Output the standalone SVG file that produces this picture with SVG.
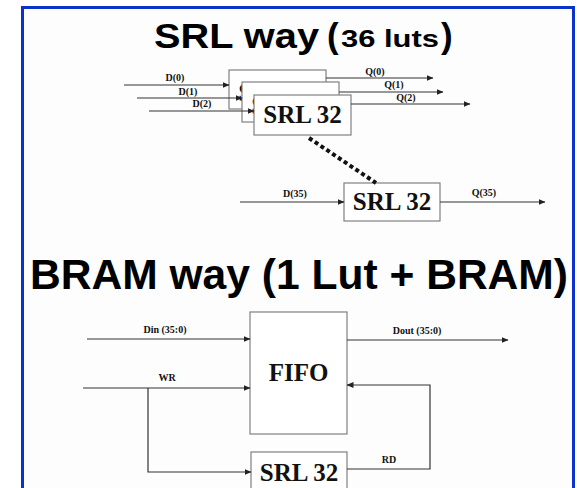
<svg xmlns="http://www.w3.org/2000/svg" width="577" height="488" viewBox="0 0 577 488">
<defs>
<marker id="ah" markerWidth="7" markerHeight="6" refX="6.5" refY="3" orient="auto" markerUnits="userSpaceOnUse">
<path d="M0,0 L7,3 L0,6 Z" fill="#222"/>
</marker>
<style>
.box{fill:#fff;stroke:#808080;stroke-width:1.2}
.ln{fill:none;stroke:#333;stroke-width:1.2}
.arr{fill:none;stroke:#333;stroke-width:1.2;marker-end:url(#ah)}
.bt{font-family:"Liberation Serif","Times New Roman",serif;font-weight:bold;font-size:25px;text-anchor:middle;fill:#111}
.lb{font-family:"Liberation Serif","Times New Roman",serif;font-weight:bold;font-size:10px;text-anchor:middle;fill:#111}
.tt{font-family:"Liberation Sans",Arial,sans-serif;font-weight:bold;fill:#000}
</style>
</defs>
<rect x="0" y="0" width="577" height="488" fill="#fff"/>
<rect x="22.5" y="7.5" width="551" height="500" fill="#fdfdfd" stroke="#0b33cc" stroke-width="3"/>

<g id="title-srl">
<text class="tt" x="154" y="48" font-size="35" textLength="165" lengthAdjust="spacingAndGlyphs">SRL way</text>
<text class="tt" x="327" y="48" font-size="35">(</text>
<text class="tt" x="341" y="47" font-size="24" textLength="98" lengthAdjust="spacingAndGlyphs">36 luts</text>
<text class="tt" x="441" y="48" font-size="35">)</text>
</g>

<g id="srl0">
<rect class="box" x="229" y="70" width="97" height="39"/>
<text class="bt" x="277.5" y="101">SRL 32</text>
</g>
<g id="srl1">
<rect class="box" x="242" y="82" width="97" height="40"/>
<text class="bt" x="290.5" y="114">SRL 32</text>
</g>
<g id="srl2">
<rect class="box" x="254" y="95" width="97" height="40"/>
<text class="bt" x="302.5" y="123">SRL 32</text>
</g>
<g id="srl35">
<rect class="box" x="344" y="183" width="96" height="38"/>
<text class="bt" x="392" y="210">SRL 32</text>
</g>

<g id="title-bram">
<text class="tt" x="30" y="289" font-size="42" textLength="538" lengthAdjust="spacingAndGlyphs">BRAM way (1 Lut + BRAM)</text>
</g>

<g id="fifo">
<rect class="box" x="250" y="312" width="97" height="122"/>
<text class="bt" x="298.5" y="381" font-size="24">FIFO</text>
</g>
<g id="srl-rd">
<rect class="box" x="251" y="452" width="96" height="45"/>
<text class="bt" x="299" y="481">SRL 32</text>
</g>

<g id="connectors">
<line class="arr" x1="124" y1="85" x2="229" y2="85"/>
<line class="arr" x1="137" y1="98" x2="242" y2="98"/>
<line class="arr" x1="149" y1="111" x2="254" y2="111"/>
<line class="arr" x1="326" y1="78" x2="433" y2="78"/>
<line class="arr" x1="339" y1="92" x2="443" y2="92"/>
<line class="arr" x1="351" y1="104" x2="470" y2="104"/>
<line x1="309" y1="138" x2="376" y2="183" stroke="#111" stroke-width="4" stroke-dasharray="4 3"/>
<line class="arr" x1="240" y1="202" x2="344" y2="202"/>
<line class="arr" x1="440" y1="202" x2="545" y2="202"/>
<line class="arr" x1="87" y1="339" x2="250" y2="339"/>
<line class="arr" x1="83" y1="388" x2="250" y2="388"/>
<polyline class="arr" points="148,388 148,472 251,472"/>
<line class="arr" x1="347" y1="340" x2="508" y2="340"/>
<polyline class="arr" points="347,469 430,469 430,385 347,385"/>
</g>

<g id="labels">
<text class="lb" x="175" y="81">D(0)</text>
<text class="lb" x="188" y="95">D(1)</text>
<text class="lb" x="202" y="107">D(2)</text>
<text class="lb" x="375" y="75">Q(0)</text>
<text class="lb" x="394" y="88">Q(1)</text>
<text class="lb" x="406" y="101">Q(2)</text>
<text class="lb" x="295" y="197">D(35)</text>
<text class="lb" x="484" y="196">Q(35)</text>
<text class="lb" x="165" y="333">Din (35:0)</text>
<text class="lb" x="167" y="381">WR</text>
<text class="lb" x="417" y="334">Dout (35:0)</text>
<text class="lb" x="389" y="463">RD</text>
</g>
</svg>
